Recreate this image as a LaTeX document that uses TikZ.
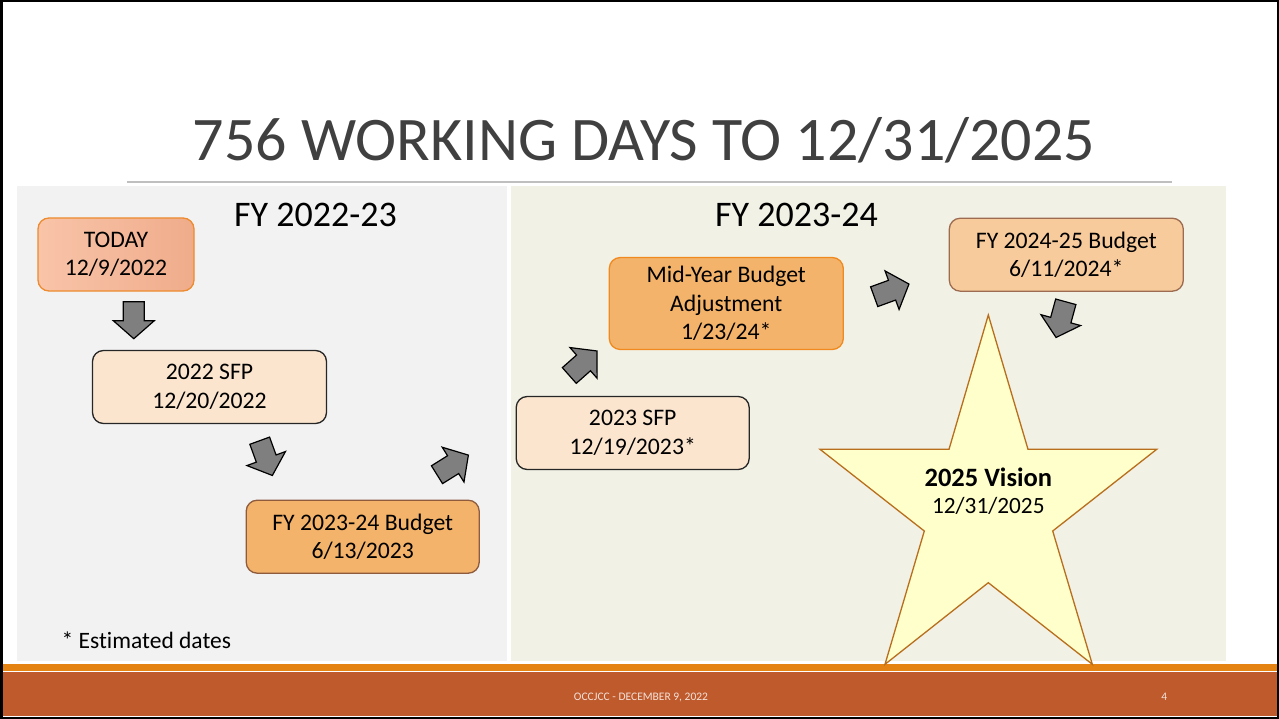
\documentclass[tikz,border=0pt]{standalone}
\usepackage{fontspec}
\setmainfont{Carlito}[Ligatures=NoCommon]
\definecolor{panelL}{HTML}{F2F2F2}
\definecolor{panelR}{HTML}{F1F1E6}
\definecolor{titlegray}{HTML}{404040}
\definecolor{rulegray}{HTML}{BFBFBF}
\definecolor{bandorange}{HTML}{E48312}
\definecolor{bandbrown}{HTML}{BE5A2C}
\definecolor{todayA}{HTML}{F9C4A9}
\definecolor{todayB}{HTML}{EFAC8B}
\definecolor{todayline}{HTML}{ED8B2E}
\definecolor{peach}{HTML}{FBE5CF}
\definecolor{budget}{HTML}{F3B36B}
\definecolor{brownline}{HTML}{8E5B3D}
\definecolor{orangeline}{HTML}{F08A1E}
\definecolor{lightbudget}{HTML}{F7CB9C}
\definecolor{lightbrown}{HTML}{9C6B50}
\definecolor{starfill}{HTML}{FFFFCC}
\definecolor{starline}{HTML}{B86E1B}
\definecolor{arrowgray}{HTML}{7F7F7F}
\definecolor{footertext}{HTML}{F4E2DA}
\tikzset{
  stagebox/.style={rounded corners=11pt, line width=1.3pt, align=center, inner sep=0pt,
    font=\fontsize{23.7}{28.5}\selectfont, text=black},
  blockarrow/.style={fill=arrowgray, draw=black, line width=1.2pt, line join=miter},
  vstar/.style={fill=starfill, draw=starline, line width=1.3pt, line join=miter}
}
\newcommand\blockarrow[3]{%
  \draw[blockarrow, shift={(#1,#2)}, rotate=#3]
    (0,-10.5) -- (19,-10.5) -- (19,-20.5) -- (37,0) -- (19,20.5) -- (19,10.5) -- (0,10.5) -- cycle;}
\begin{document}
\begin{tikzpicture}[x=1pt, y=-1pt]
\useasboundingbox (0,0) rectangle (1279,719);
\fill[white] (0,0) rectangle (1279,719);
% title
\node[anchor=base, text=titlegray, font=\fontsize{62}{70}\selectfont, inner sep=0pt] (title) at (644,160.7) {756 WORKING DAYS TO 12/31/2025};
\draw[rulegray, line width=1.5pt] (127,182) -- (1172,182);
% panels
\fill[panelL] (17,186) rectangle (507,661);
\fill[panelR] (511,186) rectangle (1226,661);
\node[anchor=base, font=\fontsize{36}{40}\selectfont, inner sep=0pt] (fy1) at (315.5,227) {FY 2022-23};
\node[anchor=base, font=\fontsize{36}{40}\selectfont, inner sep=0pt] (fy2) at (796.5,227) {FY 2023-24};
\node[anchor=base west, font=\fontsize{23.5}{28}\selectfont, inner sep=0pt] (note) at (61.5,648.3) {* Estimated dates};
% footer
\fill[bandorange] (0,663.5) rectangle (1279,671);
\fill[bandbrown] (0,672) rectangle (1279,716);
\node[anchor=base, text=footertext, font=\fontsize{11.5}{13}\selectfont, inner sep=0pt] (foot) at (641,700) {OCCJCC - DECEMBER 9, 2022};
\node[anchor=base, text=footertext, font=\fontsize{11.5}{13}\selectfont, inner sep=0pt] (page) at (1164.3,700.7) {4};
% star
\draw[vstar] (988.3,315) -- (1028,449.3) -- (1156.7,449.3) -- (1052.7,531) -- (1092.3,664.3)
  -- (988.3,582.7) -- (885,664.3) -- (924.3,531) -- (820,449.3) -- (949,449.3) -- cycle;
\node[anchor=base, font=\bfseries\fontsize{26.5}{30}\selectfont, inner sep=0pt] (vision) at (988.3,486.7) {2025 Vision};
\node[anchor=base, font=\fontsize{23.3}{28}\selectfont, inner sep=0pt] (vdate) at (988.3,513.3) {12/31/2025};
% boxes
\node[stagebox, left color=todayA, right color=todayB, draw=todayline, minimum width=156pt, minimum height=73pt] (today) at (116,254.5) {TODAY\\12/9/2022};
\node[stagebox, fill=peach, draw=black!85, minimum width=234pt, minimum height=73pt] (sfp22) at (209.5,387) {2022 SFP\\12/20/2022};
\node[stagebox, fill=budget, draw=brownline, minimum width=233pt, minimum height=73pt] (bud23) at (362.7,536.7) {FY 2023-24 Budget\\6/13/2023};
\node[stagebox, fill=peach, draw=black!85, minimum width=233pt, minimum height=73pt] (sfp23) at (632.7,433) {2023 SFP\\12/19/2023*};
\node[stagebox, fill=budget, draw=orangeline, minimum width=234pt, minimum height=92pt] (mid) at (726.3,303.5) {Mid-Year Budget\\Adjustment\\1/23/24*};
\node[stagebox, fill=lightbudget, draw=lightbrown, minimum width=234pt, minimum height=73pt] (bud24) at (1066.3,254.7) {FY 2024-25 Budget\\6/11/2024*};
% block arrows
\blockarrow{133.8}{301.7}{-90}
\blockarrow{259.7}{440.7}{-70}
\blockarrow{437}{474.7}{32}
\blockarrow{569.3}{375.5}{41.5}
\blockarrow{874.2}{296.7}{20}
\blockarrow{1065.8}{301.8}{-105.3}
% frame
\draw[black, line width=2.5pt] (1.25,1.25) rectangle (1277.75,717.75);
\end{tikzpicture}
\end{document}
